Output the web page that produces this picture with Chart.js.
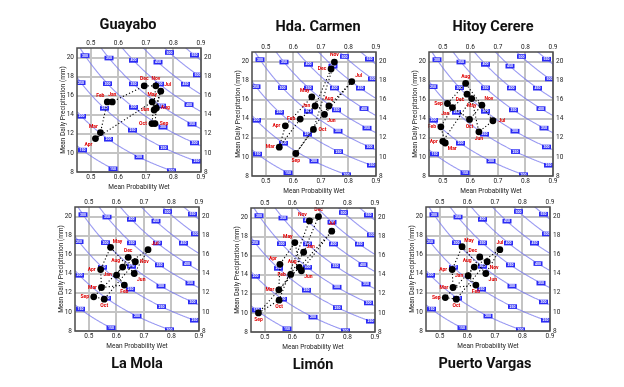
<!DOCTYPE html>
<html>
<head>
<meta charset="utf-8">
<script src="https://cdn.jsdelivr.net/npm/chart.js@4.4.0/dist/chart.umd.min.js"></script>
<style>
  body { margin: 0; background: #fff; }
  #wrap { position: relative; width: 624px; height: 387px; overflow: hidden; }
  #wrap canvas { position: absolute; }
</style>
</head>
<body>
<div id="wrap"></div>
<script>
// Months, ticks, isolines
const months = ['Jan', 'Feb', 'Mar', 'Apr', 'May', 'Jun', 'Jul', 'Aug', 'Sep', 'Oct', 'Nov', 'Dec'];
const xTicks = [0.5, 0.6, 0.7, 0.8, 0.9];
const yTicks = [8, 10, 12, 14, 16, 18, 20];
// mean monthly totals (mm) shown as blue isolines: prob * daily = total / days
const isoTotals = [150, 200, 250, 300, 350, 400, 450, 500, 550];
const daysPerMonth = 31;

// Station data, Jan..Dec (mean probability wet, mean daily precipitation mm)
const guayaboProb = [0.578, 0.560, 0.535, 0.517, 0.723, 0.730, 0.754, 0.738, 0.733, 0.722, 0.736, 0.694];
const guayaboPrecip = [15.35, 15.35, 12.13, 11.50, 15.35, 14.50, 16.47, 14.70, 13.08, 13.08, 17.03, 17.03];

const carmenProb = [0.679, 0.625, 0.549, 0.571, 0.667, 0.713, 0.812, 0.729, 0.609, 0.673, 0.749, 0.737];
const carmenPrecip = [15.34, 13.97, 11.02, 13.26, 16.30, 14.46, 17.90, 15.34, 10.36, 12.88, 19.94, 19.23];

const hitoyProb = [0.535, 0.493, 0.509, 0.500, 0.605, 0.631, 0.682, 0.583, 0.517, 0.597, 0.642, 0.588];
const hitoyPrecip = [15.17, 13.16, 11.46, 11.64, 16.12, 12.63, 13.79, 17.71, 15.60, 13.93, 15.42, 16.58];

const laMolaProb = [0.601, 0.629, 0.546, 0.543, 0.579, 0.665, 0.715, 0.623, 0.518, 0.556, 0.669, 0.643];
const laMolaPrecip = [13.86, 12.81, 12.56, 14.45, 16.77, 14.03, 16.53, 14.70, 11.58, 11.34, 15.26, 15.72];

const limonProb = [0.641, 0.594, 0.551, 0.555, 0.609, 0.633, 0.743, 0.625, 0.477, 0.552, 0.662, 0.695];
const limonPrecip = [16.36, 14.04, 12.42, 15.09, 17.37, 14.42, 18.57, 14.78, 10.00, 11.34, 19.65, 20.10];

const vargasProb = [0.603, 0.631, 0.548, 0.545, 0.581, 0.667, 0.718, 0.625, 0.520, 0.560, 0.672, 0.645];
const vargasPrecip = [13.79, 12.81, 12.56, 14.45, 16.84, 14.03, 16.53, 14.70, 11.50, 11.34, 15.26, 15.76];

// Month label side, Jan..Dec
const guayaboLabelPos = ['n', 'nw', 'nw', 'sw', 'n', 'w', 'ne', 'e', 'e', 'w', 'n', 'n'];
const carmenLabelPos = ['w', 'w', 'w', 'w', 'nw', 'se', 'ne', 'n', 's', 'e', 'n', 'w'];
const hitoyLabelPos = ['sw', 'w', 'se', 'w', 's', 's', 'e', 'n', 'w', 's', 'ne', 'sw'];
const laMolaLabelPos = ['w', 's', 'w', 'w', 'ne', 'se', 'ne', 'nw', 'w', 's', 'e', 'n'];
const limonLabelPos = ['ne', 'w', 'w', 'nw', 'nw', 'se', 'n', 'nw', 's', 's', 'nw', 'n'];
const vargasLabelPos = ['w', 's', 'w', 'w', 'ne', 'se', 'n', 'nw', 'w', 's', 'se', 'nw'];

const FONT = 'Roboto, "Open Sans", sans-serif';

// where the first isoline label sits (px along the curve) and the spacing
const isoLabelStart = [7, 6, 6, 9, 12, 16, 20, 6, 11];
const isoLabelStep = 35.5;

const labelOffsets = {
    n: [0, -7], s: [0, 7], e: [9, 0], w: [-9, 0],
    ne: [7, -6], nw: [-7, -6], se: [7, 6], sw: [-7, 6]
};

const panelPlugin = {
    id: 'wetPanel',
    beforeDatasetsDraw(chart, args, opts) {
        const { ctx, chartArea: a } = chart;
        const xs = chart.scales.x, ys = chart.scales.y;
        ctx.save();
        ctx.beginPath();
        ctx.rect(a.left, a.top, a.right - a.left, a.bottom - a.top);
        ctx.clip();
        const labels = [];
        isoTotals.forEach((total, k) => {
            const c = total / daysPerMonth;
            ctx.beginPath();
            let prev = null, arc = 0, next = isoLabelStart[k];
            for (let px = a.left; px <= a.right; px += 0.5) {
                const py = ys.getPixelForValue(c / xs.getValueForPixel(px));
                if (px === a.left) ctx.moveTo(px, py); else ctx.lineTo(px, py);
                const inside = py >= a.top && py <= a.bottom;
                if (inside) {
                    if (prev) arc += Math.hypot(px - prev[0], py - prev[1]);
                    if (arc >= next) {
                        labels.push([px, py, total]);
                        next += isoLabelStep;
                    }
                    prev = [px, py];
                }
            }
            ctx.strokeStyle = 'rgba(120, 120, 238, 0.75)';
            ctx.lineWidth = 1.1;
            ctx.stroke();
        });
        labels.forEach(([px, py, total]) => {
            ctx.fillStyle = '#2b2bf5';
            ctx.fillRect(px - 4.5, py - 2.3, 9, 4.6);
            ctx.fillStyle = '#fff';
            ctx.font = 'bold 3.5px ' + FONT;
            ctx.textAlign = 'center';
            ctx.textBaseline = 'middle';
            ctx.fillText(String(total), px, py + 0.2);
        });
        ctx.restore();
    },
    afterDatasetsDraw(chart, args, opts) {
        const { ctx } = chart;
        const meta = chart.getDatasetMeta(1);
        ctx.save();
        ctx.fillStyle = '#e00000';
        ctx.font = 'bold 5px ' + FONT;
        ctx.textAlign = 'center';
        ctx.textBaseline = 'middle';
        meta.data.forEach((pt, i) => {
            const off = labelOffsets[opts.labelPos[i]];
            ctx.fillText(months[i], pt.x + off[0], pt.y + off[1]);
        });
        ctx.restore();
    },
    afterDraw(chart, args, opts) {
        const { ctx, chartArea: a } = chart;
        ctx.save();
        ctx.strokeStyle = '#4a4a4a';
        ctx.lineWidth = 1.5;
        ctx.strokeRect(a.left, a.top, a.right - a.left, a.bottom - a.top);
        ctx.fillStyle = '#111';
        ctx.font = 'bold 14.5px ' + FONT;
        ctx.textAlign = 'center';
        ctx.textBaseline = 'middle';
        const cx = (a.left + a.right) / 2 + opts.dx;
        const cy = opts.below ? a.bottom + opts.dy : a.top + opts.dy;
        ctx.fillText(opts.title, cx, cy);
        ctx.restore();
    }
};

function axisFont() {
    return { size: 6.5, family: FONT };
}

function makePanel(p) {
    const wrap = document.getElementById('wrap');
    const canvas = document.createElement('canvas');
    canvas.width = 166;
    canvas.height = 197;
    canvas.style.left = (p.left - 22) + 'px';
    canvas.style.top = (p.below ? p.top - 14 : p.top - 50) + 'px';
    wrap.appendChild(canvas);

    const pts = months.map((m, i) => ({ x: p.prob[i], y: p.precip[i] }));
    const loop = pts.concat([pts[0]]);

    new Chart(canvas, {
        type: 'scatter',
        data: {
            datasets: [
                {
                    data: loop,
                    showLine: true,
                    borderColor: '#000',
                    borderWidth: 1.1,
                    borderDash: [1.2, 2.2],
                    pointRadius: 0,
                    fill: false,
                    tension: 0
                },
                {
                    data: pts,
                    pointRadius: 3.4,
                    backgroundColor: '#000',
                    borderWidth: 0
                }
            ]
        },
        options: {
            responsive: false,
            animation: false,
            layout: {
                padding: { left: 4, right: 4, top: p.below ? 4 : 40, bottom: p.below ? 40 : 4 }
            },
            plugins: {
                legend: { display: false },
                tooltip: { enabled: false },
                wetPanel: { title: p.title, dx: p.dx, dy: p.dy, below: p.below, labelPos: p.labelPos }
            },
            scales: {
                x: {
                    type: 'linear', position: 'bottom', min: 0.45, max: 0.9,
                    afterBuildTicks: s => { s.ticks = xTicks.map(v => ({ value: v })); },
                    afterFit: s => { s.height = 19; },
                    grid: { color: '#c4c4c4', lineWidth: 2, drawTicks: false },
                    border: { display: false },
                    ticks: { padding: 1, font: axisFont(), color: '#222', maxRotation: 0, autoSkip: false,
                        callback: v => Number(v).toFixed(1) },
                    title: { display: true, text: 'Mean Probability Wet', color: '#222',
                        font: { size: 6.5, family: FONT }, padding: 0 }
                },
                x2: {
                    axis: 'x', type: 'linear', position: 'top', min: 0.45, max: 0.9,
                    afterBuildTicks: s => { s.ticks = xTicks.map(v => ({ value: v })); },
                    afterFit: s => { s.height = 10; },
                    grid: { display: false, drawTicks: false },
                    border: { display: false },
                    ticks: { padding: 1, font: axisFont(), color: '#222', maxRotation: 0, autoSkip: false,
                        callback: v => Number(v).toFixed(1) }
                },
                y: {
                    type: 'linear', position: 'left', min: 8, max: 21,
                    afterBuildTicks: s => { s.ticks = yTicks.map(v => ({ value: v })); },
                    afterFit: s => { s.width = 18; },
                    grid: { color: '#c4c4c4', lineWidth: 2, drawTicks: false },
                    border: { display: false },
                    ticks: { padding: 3, font: axisFont(), color: '#222', autoSkip: false },
                    title: { display: true, text: 'Mean Daily Precipitation (mm)', color: '#222',
                        font: { size: 6.5, family: FONT }, padding: 0 }
                },
                y2: {
                    axis: 'y', type: 'linear', position: 'right', min: 8, max: 21,
                    afterBuildTicks: s => { s.ticks = yTicks.map(v => ({ value: v })); },
                    afterFit: s => { s.width = 16; },
                    grid: { display: false, drawTicks: false },
                    border: { display: false },
                    ticks: { padding: 3, font: axisFont(), color: '#222', autoSkip: false }
                }
            }
        },
        plugins: [panelPlugin]
    });
}

const panels = [
    { title: 'Guayabo', prob: guayaboProb, precip: guayaboPrecip, labelPos: guayaboLabelPos,
      left: 77, top: 48, below: false, dx: -11, dy: -23 },
    { title: 'Hda. Carmen', prob: carmenProb, precip: carmenPrecip, labelPos: carmenLabelPos,
      left: 252, top: 52, below: false, dx: 4, dy: -25 },
    { title: 'Hitoy Cerere', prob: hitoyProb, precip: hitoyPrecip, labelPos: hitoyLabelPos,
      left: 429, top: 52, below: false, dx: 2, dy: -25 },
    { title: 'La Mola', prob: laMolaProb, precip: laMolaPrecip, labelPos: laMolaLabelPos,
      left: 75, top: 207, below: true, dx: 0, dy: 33 },
    { title: 'Limón', prob: limonProb, precip: limonPrecip, labelPos: limonLabelPos,
      left: 251, top: 208, below: true, dx: 0, dy: 33 },
    { title: 'Puerto Vargas', prob: vargasProb, precip: vargasPrecip, labelPos: vargasLabelPos,
      left: 426, top: 207, below: true, dx: -3, dy: 33 }
];

panels.forEach(makePanel);
</script>
</body>
</html>
